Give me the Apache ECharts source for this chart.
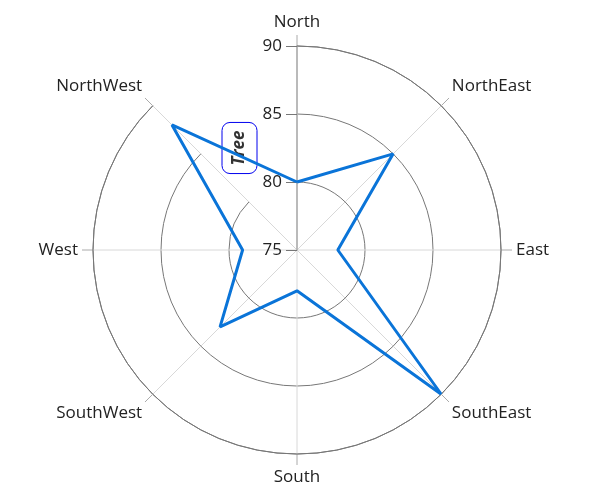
<!DOCTYPE html>
<html><head><meta charset="utf-8">
<script src="https://cdn.jsdelivr.net/npm/echarts@6/dist/echarts.min.js"></script>
<style>html,body{margin:0;padding:0;background:#fff}#c{width:600px;height:503px}</style>
</head><body><div id="c"></div>
<script>
const categories = ['North','NorthEast','East','SouthEast','South','SouthWest','West','NorthWest'];
const values = [80, 85, 78, 90, 78, 83, 79, 88];
const radiusTicks = {min: 75, max: 90, interval: 5};
const seriesName = 'Tree';

// points as [radius, category position]; closing point returns to the first one at a full turn
const pts = values.map((v, i) => [v, i]);
pts.push([values[0], categories.length]);

const font = 'Open Sans';
const center = [297, 250];
const radius = 204;
const chart = echarts.init(document.getElementById('c'));
chart.setOption({
  animation: false,
  polar: [{ center: center, radius: radius }, { center: center, radius: radius }],
  angleAxis: [{
    polarIndex: 0,
    type: 'category', data: categories, startAngle: 90, clockwise: true, boundaryGap: false,
    axisLine: { lineStyle: { color: '#777', width: 1 } },
    axisTick: { show: true, length: 11, lineStyle: { color: '#aaa' } },
    axisLabel: { margin: 15, fontSize: 17, color: '#222', fontFamily: font },
    splitLine: { show: true, lineStyle: { color: '#d8d8d8', width: 1 } }
  }, {
    polarIndex: 1, type: 'value', min: 0, max: categories.length, startAngle: 90, clockwise: true, show: false
  }],
  radiusAxis: [{
    polarIndex: 0,
    type: 'value', min: radiusTicks.min, max: radiusTicks.max, interval: radiusTicks.interval,
    axisLine: { lineStyle: { color: '#aaa', width: 1.5 } },
    axisTick: { show: true, length: 11, lineStyle: { color: '#777', width: 1 } },
    axisLabel: { margin: 15, fontSize: 17, color: '#222', fontFamily: font },
    splitLine: { show: true, lineStyle: { color: '#777', width: 1 } },
    name: seriesName, nameLocation: 'middle', nameRotate: 90, nameGap: -75,
    nameTextStyle: { fontFamily: font, fontStyle: 'italic', fontWeight: 'bold', fontSize: 17, color: '#333',
      borderColor: '#0000ee', borderWidth: 1, borderRadius: 8, padding: [9, 8] }
  }, {
    polarIndex: 1, type: 'value', min: radiusTicks.min, max: radiusTicks.max, show: false
  }],
  series: [{
    name: seriesName, type: 'line', coordinateSystem: 'polar', polarIndex: 1, data: pts,
    showSymbol: false, symbol: 'none',
    lineStyle: { color: '#0a74d8', width: 3 }, z: 5
  }]
});
</script></body></html>
